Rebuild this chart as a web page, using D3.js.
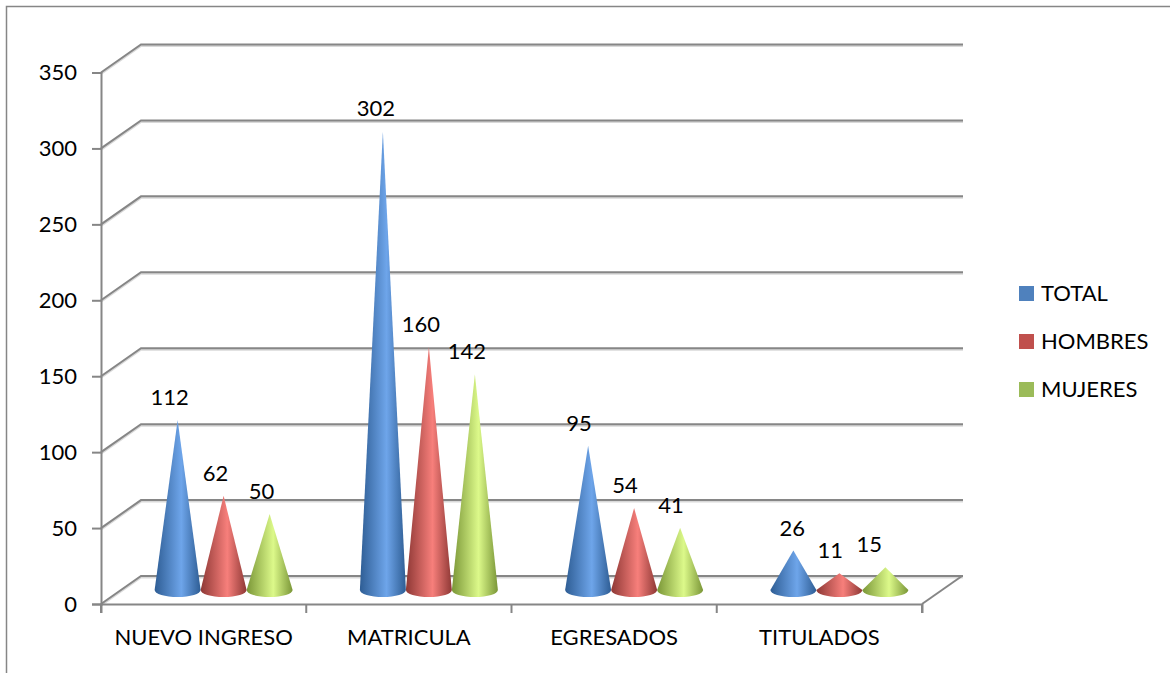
<!DOCTYPE html>
<html>
<head>
<meta charset="utf-8">
<script src="https://cdn.jsdelivr.net/npm/d3@7"></script>
<style>
  html, body { margin: 0; background: #fff; }
  svg { display: block; }
  text { font-family: Lato, "Open Sans", sans-serif; fill: #000; }
</style>
</head>
<body>
<svg id="chart" width="1170" height="673"></svg>
<script>
const categories = ["NUEVO INGRESO", "MATRICULA", "EGRESADOS", "TITULADOS"];
const seriesNames = ["TOTAL", "HOMBRES", "MUJERES"];
const total = [112, 302, 95, 26];
const hombres = [62, 160, 54, 11];
const mujeres = [50, 142, 41, 15];
const yTicks = [0, 50, 100, 150, 200, 250, 300, 350];

// edge, centre colours of each cone, plus the flat legend colour
const COLORS = [
    { edge: "#2e5d94", mid: "#6ea5ea", flat: "#4f81bd" },
    { edge: "#8e3835", mid: "#f77f7b", flat: "#c0504d" },
    { edge: "#7a9637", mid: "#dcf98a", flat: "#9bbb59" }
];
const GRID = "#868686";
const FS = 22;

const svg = d3.select("#chart");
const defs = svg.append("defs");
const series = [total, hombres, mujeres];

// front edge of the box and how far the back wall is pushed
const x = d3.scaleBand().domain(categories).range([101, 922]);
const y = d3.scaleLinear().domain([0, 350]).range([604, 72.5]);
const DEPTH_X = 40, DEPTH_Y = -28;

COLORS.forEach((c, i) => {
    const g = defs.append("linearGradient").attr("id", "cone" + i);
    g.append("stop").attr("offset", "0").attr("stop-color", c.edge);
    g.append("stop").attr("offset", "0.58").attr("stop-color", c.mid);
    g.append("stop").attr("offset", "1").attr("stop-color", c.edge);
});

// chart frame
svg.append("path")
    .attr("d", "M1170,6.5H6.5V673")
    .attr("fill", "none")
    .attr("stroke", GRID)
    .attr("stroke-width", 1.5);

// 3d walls
const grid = svg.append("g")
    .attr("fill", "none")
    .attr("stroke-linejoin", "miter");

const wallPath = d => {
    const v = y(d);
    return `M101,${v}L${101 + DEPTH_X},${v + DEPTH_Y}H${922 + DEPTH_X + 1}`;
};
grid.selectAll("path.shadow").data(yTicks).enter().append("path")
    .attr("class", "shadow")
    .attr("d", wallPath)
    .attr("stroke", "#d9d9d9")
    .attr("stroke-width", 2)
    .attr("transform", "translate(0,1.5)");
grid.selectAll("path.wall").data(yTicks).enter().append("path")
    .attr("class", "wall")
    .attr("d", wallPath)
    .attr("stroke", GRID)
    .attr("stroke-width", 2);
grid.append("path")
    .attr("d", `M922,${y(0)}L${922 + DEPTH_X},${y(0) + DEPTH_Y}`)
    .attr("stroke", GRID)
    .attr("stroke-width", 2);

// axes
const yAxis = svg.append("g")
    .attr("transform", "translate(101,0)")
    .call(d3.axisLeft(y).tickValues(yTicks).tickSize(9).tickPadding(15));
const xAxis = svg.append("g")
    .attr("transform", `translate(0,${y(0)})`)
    .call(d3.axisBottom(x).tickSize(9).tickPadding(16).tickSizeOuter(9));
// d3 puts band ticks at centres, the chart has them between the categories
xAxis.selectAll(".tick line")
    .attr("x1", -x.step() / 2).attr("x2", -x.step() / 2);
xAxis.append("line")
    .attr("x1", 922).attr("x2", 922).attr("y1", 0).attr("y2", 9);
[yAxis, xAxis].forEach(a => {
    a.selectAll("path.domain, line").attr("stroke", GRID).attr("stroke-width", 2);
    a.selectAll("text")
        .attr("fill", "#000")
        .style("font-family", "Lato, 'Open Sans', sans-serif")
        .style("font-size", FS + "px");
});

// cones stand half way into the box depth
const FLOOR_Y = y(0) + DEPTH_Y / 2;
const h = d3.scaleLinear().domain([0, 350]).range([FLOOR_Y, y(350) + DEPTH_Y / 2]);
const inner = d3.scaleBand().domain(d3.range(3)).range([0, 138]);
const groupX = cat => x(cat) + x.step() / 2 + DEPTH_X / 2 - 69;
const R = 23, RY = 7;

const conePath = (cx, v) =>
    `M${cx},${h(v)}L${cx + R},${FLOOR_Y}A${R},${RY} 0 0 1 ${cx - R},${FLOOR_Y}Z`;

categories.forEach((cat, ci) => {
    series.forEach((vals, si) => {
        const cx = groupX(cat) + inner(si) + inner.bandwidth() / 2;
        svg.append("path")
            .attr("d", conePath(cx, vals[ci]))
            .attr("fill", `url(#cone${si})`);
    });
});

// data labels, Excel left these a little off centre
const labelDx = [[-8, -8, -8], [-7, -8, -8], [-9, -9, -9], [-1, -9, -16]];
categories.forEach((cat, ci) => {
    series.forEach((vals, si) => {
        const cx = groupX(cat) + inner(si) + inner.bandwidth() / 2;
        svg.append("text")
            .attr("x", cx + labelDx[ci][si])
            .attr("y", h(vals[ci]) - 15)
            .attr("text-anchor", "middle")
            .style("font-size", FS + "px")
            .text(vals[ci]);
    });
});

// legend
const legend = svg.append("g")
    .selectAll("g")
    .data(seriesNames)
    .enter()
    .append("g")
    .attr("transform", (d, i) => `translate(1019,${286 + i * 48})`);
legend.append("rect")
    .attr("width", 15).attr("height", 15)
    .attr("fill", (d, i) => COLORS[i].flat);
legend.append("text")
    .attr("x", 22).attr("y", 15)
    .style("font-size", FS + "px")
    .text(d => d);
</script>
</body>
</html>
